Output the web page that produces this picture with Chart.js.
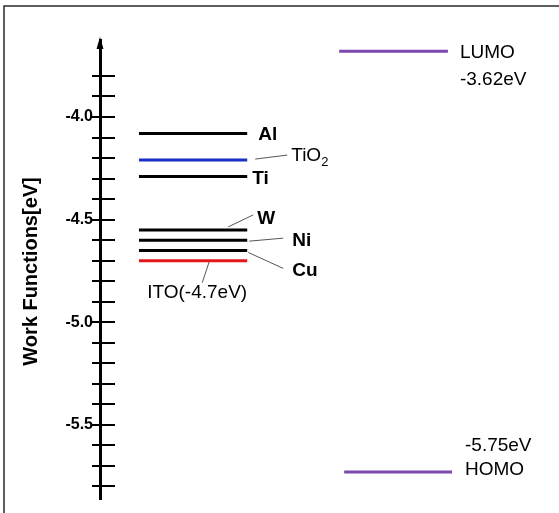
<!DOCTYPE html>
<html>
<head>
<meta charset="utf-8">
<script src="https://cdn.jsdelivr.net/npm/chart.js@4.4.1/dist/chart.umd.min.js"></script>
<style>
  body { margin: 0; background: #fff; }
  #wrap { width: 559px; height: 513px; }
</style>
</head>
<body>
<div id="wrap"><canvas id="levels"></canvas></div>
<script>
"use strict";

// work functions of the electrode materials [eV]
const metals = ['Al', 'TiO2', 'Ti', 'W', 'Ni', 'Cu', 'ITO(-4.7eV)'];
const workFunctions = [-4.08, -4.21, -4.29, -4.55, -4.60, -4.65, -4.70];

// frontier orbitals of the organic layer (drawn level, printed value)
const orbitals = ['LUMO', 'HOMO'];
const orbitalLevels = [-3.68, -5.73];
const orbitalTexts = ['-3.62eV', '-5.75eV'];

// axis
const axisRange = [-5.861, -3.625];
const labeledTicks = [-4.0, -4.5, -5.0, -5.5];
const tickRange = [-5.8, -3.8];

// ---- look ----
const FONT = "'Liberation Sans', Arial, sans-serif";
const metalColors = ['#000', '#1a2fc4', '#000', '#000', '#000', '#000', '#e3161c'];
const orbitalColor = '#7d47b0';
const metalSpan = [0.86, 3.25];
const orbitalSpans = [[5.28, 7.68], [5.39, 7.77]];

// label placement, pixel offsets from the right end of each level
// [textDx, textDy, bold, leader (x1,y1,x2,y2) or null]
const metalLabelPos = [
  [11, 1, true, null],
  [44, -4, false, [8, -1, 40, -5]],
  [5, 2, true, null],
  [10, -11, true, [-19, -3, 6, -15]],
  [45, 1, true, [2, 1, 36, -2]],
  [45, 20, true, [1, 2, 36, 18]],
  [-100, 32, false, [-38, 1, -45, 22]]
];

const minorTicks = [];
for (let v = Math.round(tickRange[0] * 10); v <= Math.round(tickRange[1] * 10); v++) {
  minorTicks.push(v / 10);
}

function segment(span, y) {
  return [{ x: span[0], y: y }, { x: span[1], y: y }];
}

const datasets = [];
metals.forEach(function (m, i) {
  datasets.push({
    label: m,
    data: segment(metalSpan, workFunctions[i]),
    borderColor: metalColors[i],
    borderWidth: 3,
    pointRadius: 0
  });
});
orbitals.forEach(function (o, i) {
  datasets.push({
    label: o,
    data: segment(orbitalSpans[i], orbitalLevels[i]),
    borderColor: orbitalColor,
    borderWidth: 3,
    pointRadius: 0
  });
});

function isLabeled(v) {
  return labeledTicks.some(function (t) { return Math.abs(t - v) < 1e-6; });
}

const decorations = {
  id: 'decorations',
  afterDraw(chart) {
    const ctx = chart.ctx;
    const xs = chart.scales.x, ys = chart.scales.y;
    const area = chart.chartArea;
    ctx.save();

    // frame (top + left edges)
    ctx.strokeStyle = '#2a2a2a';
    ctx.lineWidth = 1.5;
    ctx.beginPath();
    ctx.moveTo(4, chart.height);
    ctx.lineTo(4, 6);
    ctx.lineTo(chart.width, 6);
    ctx.stroke();

    // right half of the crossing tick marks
    ctx.strokeStyle = '#000';
    ctx.lineWidth = 2;
    ys.ticks.forEach(function (t) {
      const y = Math.round(ys.getPixelForValue(t.value));
      ctx.beginPath();
      ctx.moveTo(area.left, y);
      ctx.lineTo(area.left + 15, y);
      ctx.stroke();
    });

    // arrow head
    ctx.fillStyle = '#000';
    ctx.beginPath();
    ctx.moveTo(area.left, area.top - 3);
    ctx.lineTo(area.left - 3.5, area.top + 9);
    ctx.lineTo(area.left + 3.5, area.top + 9);
    ctx.closePath();
    ctx.fill();

    // axis title
    ctx.save();
    ctx.translate(31, (area.top + area.bottom) / 2 + 2);
    ctx.rotate(-Math.PI / 2);
    ctx.font = 'bold 20px ' + FONT;
    ctx.textAlign = 'center';
    ctx.textBaseline = 'middle';
    ctx.fillText('Work Functions[eV]', 0, 0);
    ctx.restore();

    // metal labels
    ctx.textBaseline = 'middle';
    ctx.textAlign = 'left';
    const xEnd = xs.getPixelForValue(metalSpan[1]);
    metals.forEach(function (m, i) {
      const y = ys.getPixelForValue(workFunctions[i]);
      const p = metalLabelPos[i];
      if (p[3]) {
        ctx.strokeStyle = '#555';
        ctx.lineWidth = 1;
        ctx.beginPath();
        ctx.moveTo(xEnd + p[3][0], y + p[3][1]);
        ctx.lineTo(xEnd + p[3][2], y + p[3][3]);
        ctx.stroke();
      }
      ctx.fillStyle = '#000';
      ctx.font = (p[2] ? 'bold ' : '') + '19px ' + FONT;
      const tx = xEnd + p[0], ty = y + p[1];
      if (m === 'TiO2') {
        ctx.fillText('TiO', tx, ty);
        const w = ctx.measureText('TiO').width;
        ctx.font = '13px ' + FONT;
        ctx.fillText('2', tx + w, ty + 6);
      } else {
        ctx.fillText(m, tx, ty);
      }
    });

    // LUMO / HOMO labels
    ctx.font = '19px ' + FONT;
    const lx = xs.getPixelForValue(orbitalSpans[0][1]) + 12;
    const ly = ys.getPixelForValue(orbitalLevels[0]);
    ctx.fillText(orbitals[0], lx, ly + 1);
    ctx.fillText(orbitalTexts[0], lx, ly + 28);
    const hx = xs.getPixelForValue(orbitalSpans[1][1]) + 13;
    const hy = ys.getPixelForValue(orbitalLevels[1]);
    ctx.fillText(orbitalTexts[1], hx, hy - 26);
    ctx.fillText(orbitals[1], hx, hy - 2);

    ctx.restore();
  }
};

new Chart(document.getElementById('levels'), {
  type: 'line',
  data: { datasets: datasets },
  options: {
    responsive: true,
    maintainAspectRatio: false,
    animation: false,
    events: [],
    layout: { padding: { left: 4, top: 40, right: 6, bottom: 14 } },
    plugins: { legend: { display: false }, tooltip: { enabled: false } },
    scales: {
      x: { type: 'linear', min: 0, max: 10, display: false },
      y: {
        type: 'linear',
        min: axisRange[0],
        max: axisRange[1],
        afterBuildTicks: function (s) {
          s.ticks = minorTicks.map(function (v) { return { value: v }; });
        },
        afterFit: function (s) { s.width = 96; },
        ticks: {
          autoSkip: false,
          padding: -1,
          color: '#000',
          font: { family: FONT, size: 16, weight: 'bold' },
          callback: function (v) { return isLabeled(v) ? v.toFixed(1) : ''; }
        },
        grid: { drawOnChartArea: false, drawTicks: true, tickLength: 8, color: '#000', lineWidth: 2 },
        border: { color: '#000', width: 3 }
      }
    }
  },
  plugins: [decorations]
});
</script>
</body>
</html>
